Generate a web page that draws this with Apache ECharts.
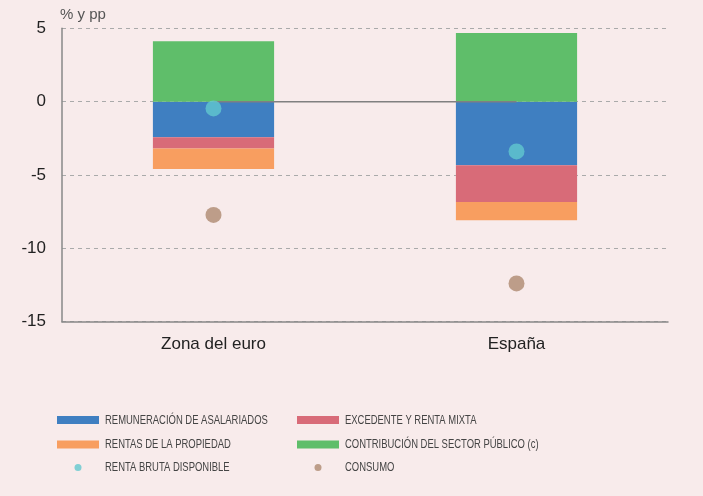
<!DOCTYPE html>
<html>
<head>
<meta charset="utf-8">
<script src="https://cdn.jsdelivr.net/npm/echarts@6/dist/echarts.min.js"></script>
<style>
html,body{margin:0;padding:0;background:#F8EBEB;}
#chart{width:703px;height:496px;}
</style>
</head>
<body>
<div id="chart"></div>
<script>
const categories = ['Zona del euro', 'España'];
const remuneracion = [-2.43, -4.34];
const excedente = [-0.77, -2.5];
const rentasPropiedad = [-1.39, -1.25];
const contribucion = [4.11, 4.68];
const rentaBruta = [-0.46, -3.39];
const consumo = [-7.72, -12.39];
const zeroLine = [0, 0];
const yTicks = [-15, -10, -5, 0, 5];

const names = {
  rem: 'REMUNERACIÓN DE ASALARIADOS',
  exc: 'EXCEDENTE Y RENTA MIXTA',
  ren: 'RENTAS DE LA PROPIEDAD',
  con: 'CONTRIBUCIÓN DEL SECTOR PÚBLICO (c)',
  rbd: 'RENTA BRUTA DISPONIBLE',
  cons: 'CONSUMO'
};
const colors = {
  rem: '#3F7FC1', exc: '#D86B78', ren: '#F89E60', con: '#5FBE6A', rbd: '#62C8CE', cons: '#AE8970'
};
// legend layout: [key, iconLeft, rowCenterY, isDot]
const legendLayout = [
  ['rem', 57, 420, false], ['exc', 297, 420, false],
  ['ren', 57, 444.5, false], ['con', 297, 444.5, false],
  ['rbd', 57, 467.5, true], ['cons', 297, 467.5, true]
];

const chart = echarts.init(document.getElementById('chart'));
const legends = legendLayout.map(function (l) {
  const dot = l[3];
  const w = dot ? 7 : 42, h = dot ? 7 : 8;
  return {
    data: [names[l[0]]], left: dot ? l[1] + 21 - w / 2 : l[1], top: l[2] - h / 2, padding: 0,
    itemWidth: w, itemHeight: h, icon: dot ? 'circle' : 'rect',
    formatter: function () { return ''; },
    textStyle: {fontSize: 6}, selectedMode: false
  };
});
const legendTexts = legendLayout.map(function (l) {
  return {
    type: 'text', x: l[1] + 48, y: l[2], scaleX: 0.7, scaleY: 1,
    style: {text: names[l[0]], fill: '#444', font: '13.5px "Liberation Sans", Arial', textVerticalAlign: 'middle', textAlign: 'left'}
  };
});
chart.setOption({
  backgroundColor: '#F8EBEB',
  animation: false,
  title: {
    text: '% y pp', left: 60, top: 7, padding: 0,
    textStyle: {fontFamily: 'Liberation Sans, Arial', fontSize: 15, fontWeight: 'normal', color: '#555'}
  },
  legend: legends,
  graphic: legendTexts,
  grid: {left: 62, right: 35, top: 28.3, bottom: 174.3},
  xAxis: {
    type: 'category', data: categories, position: 'bottom',
    axisLine: {onZero: false, lineStyle: {color: '#888', width: 1.5}},
    axisTick: {inside: true, length: 5, lineStyle: {color: '#888', width: 1.5}},
    axisLabel: {fontFamily: 'Liberation Sans, Arial', fontSize: 17, color: '#222', margin: 14}
  },
  yAxis: {
    type: 'value', min: yTicks[0], max: yTicks[yTicks.length - 1], interval: 5,
    axisLine: {show: true, lineStyle: {color: '#888', width: 1.5}},
    axisTick: {show: false},
    axisLabel: {fontFamily: 'Liberation Sans, Arial', fontSize: 17, color: '#222', margin: 16},
    splitLine: {show: true, lineStyle: {color: '#AAA', type: [4, 4], width: 1}}
  },
  series: [
    {name: names.rem, type: 'bar', stack: 'a', data: remuneracion, barWidth: '40%', itemStyle: {color: colors.rem}},
    {name: names.exc, type: 'bar', stack: 'a', data: excedente, itemStyle: {color: colors.exc}},
    {name: names.ren, type: 'bar', stack: 'a', data: rentasPropiedad, itemStyle: {color: colors.ren}},
    {name: names.con, type: 'bar', stack: 'a', data: contribucion, itemStyle: {color: colors.con}},
    {name: 'zero', type: 'line', data: zeroLine, symbol: 'none', z: 3,
     lineStyle: {color: '#808080', width: 1.5}, itemStyle: {color: '#808080'}},
    {name: names.rbd, type: 'scatter', data: rentaBruta, symbolSize: 16, z: 4, itemStyle: {color: colors.rbd}},
    {name: names.cons, type: 'scatter', data: consumo, symbolSize: 16, z: 4, itemStyle: {color: colors.cons}}
  ]
});
</script>
</body>
</html>
